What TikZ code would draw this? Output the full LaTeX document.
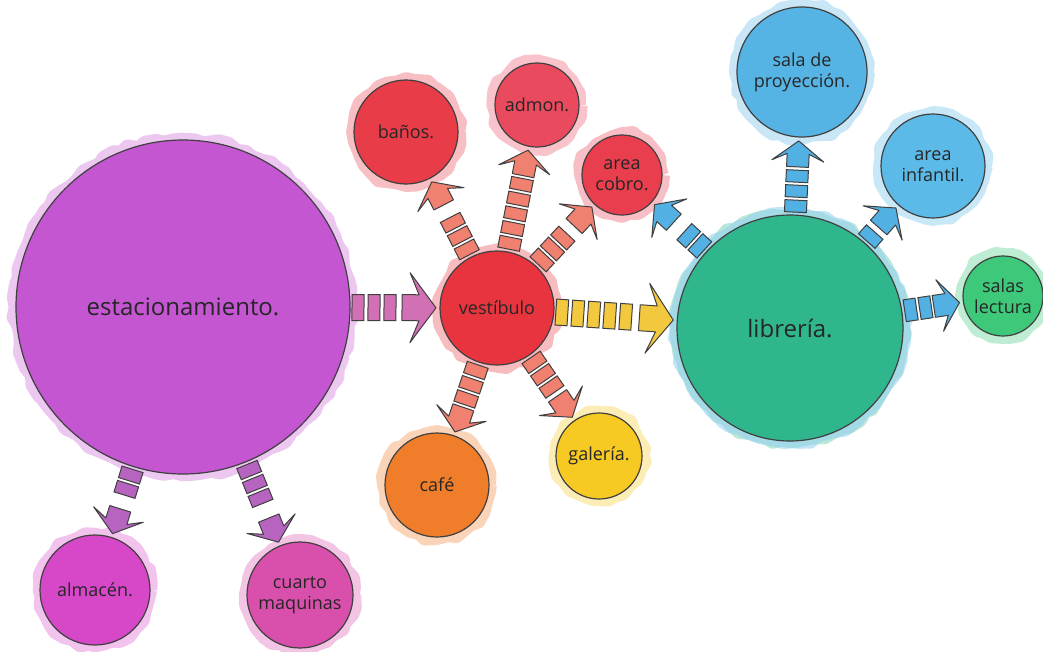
\documentclass[tikz,border=0pt]{standalone}
\usepackage{fontspec}
\setmainfont{Open Sans}
\usetikzlibrary{positioning,decorations.markings,decorations.pathmorphing}

\definecolor{estpurple}{RGB}{196,86,210}
\definecolor{almmag}{RGB}{214,72,200}
\definecolor{cuamag}{RGB}{216,80,172}
\definecolor{vestred}{RGB}{232,52,62}
\definecolor{banred}{RGB}{232,60,72}
\definecolor{admred}{RGB}{234,74,94}
\definecolor{cobred}{RGB}{232,62,78}
\definecolor{cafeor}{RGB}{240,125,42}
\definecolor{galyel}{RGB}{246,202,34}
\definecolor{libgreen}{RGB}{48,182,140}
\definecolor{libblue}{RGB}{72,176,230}
\definecolor{salblue}{RGB}{86,180,228}
\definecolor{infblue}{RGB}{92,186,232}
\definecolor{lecgreen}{RGB}{62,200,122}
\definecolor{salmon}{RGB}{240,128,112}
\definecolor{pinkarr}{RGB}{210,112,182}
\definecolor{yelarr}{RGB}{242,200,62}
\definecolor{purarr}{RGB}{182,100,192}
\definecolor{bluearr}{RGB}{82,176,226}

\pgfmathsetseed{7}

\tikzset{
  halo/.style={preaction={draw=#1!60, line width=14pt, opacity=.55, line join=round,
               decorate, decoration={random steps, segment length=9pt, amplitude=2.5pt}}},
  bubble/.style={circle, draw=black!75, line width=1.2pt, fill=#1, halo=#1,
                 align=center, inner sep=0pt, outer sep=4pt, text=black!85,
                 font=\fontsize{18}{21}\selectfont},
  bigtext/.style={font=\fontsize{24}{28}\selectfont},
  % small dashed block arrow
  flow/.style={draw=none, postaction={decorate, decoration={markings,
     mark=between positions 5pt and -33pt step 15pt with
       {\draw[fill=#1, draw=black!75, line width=1pt] (-6pt,-11pt) rectangle (6pt,11pt);},
     mark=at position 1 with
       {\draw[fill=#1, draw=black!75, line width=1pt, line join=round]
          (0pt,0pt) -- (-20pt,26pt) -- (-13pt,11pt) -- (-26pt,11pt) -- (-26pt,-11pt)
          -- (-13pt,-11pt) -- (-20pt,-26pt) -- cycle;}}}},
  % big dashed block arrow
  bigflow/.style={draw=none, postaction={decorate, decoration={markings,
     mark=between positions 4pt and -44pt step 16pt with
       {\draw[fill=#1, draw=black!75, line width=1pt] (-6pt,-13pt) rectangle (6pt,13pt);},
     mark=at position 1 with
       {\draw[fill=#1, draw=black!75, line width=1pt, line join=round]
          (0pt,0pt) -- (-26pt,35pt) -- (-17pt,13pt) -- (-34pt,13pt) -- (-34pt,-13pt)
          -- (-17pt,-13pt) -- (-26pt,-35pt) -- cycle;}}}}
}

\begin{document}
\begin{tikzpicture}[x=1pt, y=-1pt]
  \useasboundingbox (0,0) rectangle (1043,651);

  % main spaces
  \node[bubble=estpurple, bigtext, minimum size=334pt] (est) at (183,307) {estacionamiento.};
  \node[bubble=vestred, minimum size=114pt] (vest) at (497,308) {vestíbulo};
  \node[bubble=libgreen, halo=libblue, bigtext, minimum size=226pt] (lib) at (790,328) {librería.};

  % around vestibulo
  \node[bubble=banred, minimum size=104pt] (banos) at (406,132) {baños.};
  \node[bubble=admred, minimum size=84pt] (admon) at (537,105) {admon.};
  \node[bubble=cobred, minimum size=80pt] (cobro) at (622,175) {area\\cobro.};
  \node[bubble=cafeor, minimum size=104pt] (cafe) at (437,485) {café};
  \node[bubble=galyel, minimum size=86pt] (galeria) at (599,456) {galería.};

  % under estacionamiento
  \node[bubble=almmag, minimum size=110pt] (almacen) at (95,590) {almacén.};
  \node[bubble=cuamag, minimum size=106pt] (cuarto) at (300,595) {cuarto\\maquinas};

  % around libreria
  \node[bubble=salblue, minimum size=130pt] (sala) at (802,72) {sala de\\proyección.};
  \node[bubble=infblue, minimum size=104pt] (infantil) at (933,166) {area\\infantil.};
  \node[bubble=lecgreen, minimum size=80pt] (lectura) at (1003,296) {salas\\lectura};

  \path (est)  edge[bigflow=pinkarr] (vest)
               edge[flow=purarr] (almacen)
               edge[flow=purarr] (cuarto)
        (vest) edge[bigflow=yelarr] (lib)
               edge[flow=salmon] (banos)
               edge[flow=salmon] (admon)
               edge[flow=salmon] (cobro)
               edge[flow=salmon] (cafe)
               edge[flow=salmon] (galeria)
        (lib)  edge[flow=bluearr] (sala)
               edge[flow=bluearr] (infantil)
               edge[flow=bluearr] (lectura)
               edge[flow=bluearr] (cobro);
\end{tikzpicture}
\end{document}
